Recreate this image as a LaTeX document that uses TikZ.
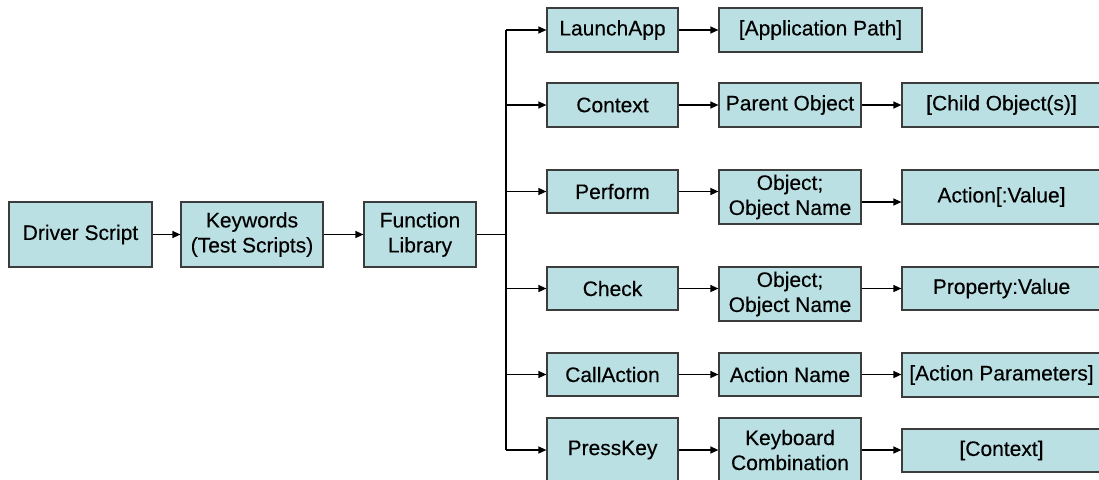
\documentclass[tikz,border=0pt]{standalone}
\usepackage{fontspec}
\setmainfont{Liberation Sans}
\newfontfamily\boxfont[FakeBold=0.3]{Liberation Sans}
\usetikzlibrary{arrows.meta}
\definecolor{boxfill}{RGB}{187,224,227}
\definecolor{boxline}{RGB}{60,60,60}
\begin{document}
\begin{tikzpicture}[x=1pt,y=-1pt,
  box/.style={draw=boxline, line width=1.2pt, fill=boxfill, inner sep=0pt, align=center,
    font=\boxfont\fontsize{21}{25}\selectfont},
  arr/.style={draw=black, line width=1.3pt, -{Triangle[length=8pt,width=7pt]}},
  ln/.style={draw=black, line width=1.3pt}]
\useasboundingbox (0,0) rectangle (1099,479);
\clip (0,0) rectangle (1099,479);
% column 1
\node[box, minimum width=143pt, minimum height=65pt] (ds) at (80.5,234.5) {Driver Script};
\node[box, minimum width=142pt, minimum height=65pt] (kw) at (252,234.5) {Keywords\\(Test Scripts)};
\node[box, minimum width=112pt, minimum height=65pt] (fl) at (420,234.5) {Function\\Library};
% column 2
\node[box, minimum width=131pt, minimum height=44pt] (launch) at (612.5,30) {LaunchApp};
\node[box, minimum width=131pt, minimum height=44pt] (context) at (612.5,105) {Context};
\node[box, minimum width=131pt, minimum height=43pt] (perform) at (612.5,191.5) {Perform};
\node[box, minimum width=131pt, minimum height=43pt] (check) at (612.5,288.5) {Check};
\node[box, minimum width=131pt, minimum height=43pt] (callact) at (612.5,374.5) {CallAction};
\node[box, minimum width=131pt, minimum height=64pt] (presskey) at (612.5,450) {PressKey};
% column 3
\node[box, minimum width=203pt, minimum height=44pt] (apppath) at (820.5,30) {[Application Path]};
\node[box, minimum width=142pt, minimum height=44pt] (parent) at (790,105) {Parent Object};
\node[box, minimum width=142pt, minimum height=54pt] (obj1) at (790,197) {Object;\\Object Name};
\node[box, minimum width=142pt, minimum height=54pt] (obj2) at (790,294) {Object;\\Object Name};
\node[box, minimum width=142pt, minimum height=43pt] (actname) at (790,374.5) {Action Name};
\node[box, minimum width=142pt, minimum height=64pt] (keyb) at (790,450) {Keyboard\\Combination};
% column 4
\node[box, minimum width=199pt, minimum height=44pt] (child) at (1001.5,105) {[Child Object(s)]};
\node[box, minimum width=199pt, minimum height=54pt] (actval) at (1001.5,197) {Action[:Value]};
\node[box, minimum width=199pt, minimum height=43pt] (propval) at (1001.5,288.5) {Property:Value};
\node[box, minimum width=199pt, minimum height=44pt] (actparam) at (1001.5,375) {[Action Parameters]};
\node[box, minimum width=199pt, minimum height=43pt] (ctx) at (1001.5,450.5) {[Context]};
% connectors
\draw[arr] (ds.east) -- (kw.west);
\draw[arr] (kw.east) -- (fl.west);
\coordinate (tr) at (506,234.5);
\draw[ln] (fl.east) -- (tr);
\draw[ln] (tr |- launch.west) -- (tr |- presskey.west);
\foreach \n in {launch,context,perform,check,callact,presskey}
  \draw[arr] (tr |- \n.west) -- (\n.west);
\draw[arr] (launch.east) -- (launch.east -| apppath.west);
\draw[arr] (context.east) -- (context.east -| parent.west);
\draw[arr] (parent.east) -- (parent.east -| child.west);
\draw[arr] (perform.east) -- (perform.east -| obj1.west);
\draw[arr] ([yshift=-5pt]obj1.east) -- ([yshift=-5pt]obj1.east -| actval.west);
\draw[arr] (check.east) -- (check.east -| obj2.west);
\draw[arr] (propval.west -| obj2.east) -- (propval.west);
\draw[arr] (callact.east) -- (callact.east -| actname.west);
\draw[arr] (actname.east) -- (actname.east -| actparam.west);
\draw[arr] (presskey.east) -- (presskey.east -| keyb.west);
\draw[arr] (keyb.east) -- (keyb.east -| ctx.west);
\end{tikzpicture}
\end{document}
